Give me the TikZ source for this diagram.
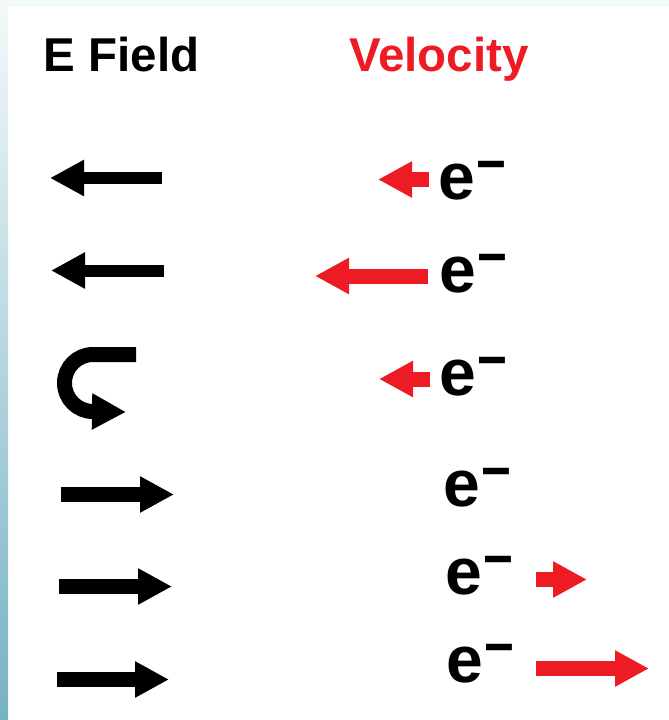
\documentclass[tikz,border=0pt]{standalone}
\usepackage{fontspec}
\setmainfont{Liberation Sans}
\usepackage{graphicx}
\usetikzlibrary{arrows.meta}
\definecolor{vred}{HTML}{ED1C24}
\definecolor{edgetop}{HTML}{F4F9FA}
\definecolor{edgemid}{HTML}{DDEDF2}
\definecolor{edgebot}{HTML}{76B2C4}
\newcommand{\elec}{e\raisebox{20.5pt}{\scalebox{1.7}[0.9]{\fontsize{60}{60}\selectfont\bfseries -}}}

\begin{document}
\begin{tikzpicture}[x=1pt,y=-1pt]
  \useasboundingbox (0,0) rectangle (669,720);
  \fill[edgetop] (0,0) rectangle (669,7);
  \shade[top color=edgetop,middle color=edgemid,bottom color=edgebot] (0,0) rectangle (8,720);
  \tikzset{
    fieldarrow/.style={line width=#1,-{Triangle[length=34pt,width=34pt]}},
    velarrow/.style={vred,line width=15pt,-{Triangle[length=34pt,width=34pt]}},
    heading/.style={anchor=base west,inner sep=0pt,font=\fontsize{47.5}{50}\selectfont\bfseries},
    electron/.style={anchor=base west,inner sep=0pt,font=\fontsize{66}{70}\selectfont\bfseries}
  }
  \node[heading] (efield) at (43.5,71) {E Field};
  \node[heading,text=vred] (velocity) at (349,71) {Velocity};
  % field column
  \draw[fieldarrow=12pt] (162,178) -- (50,178);
  \draw[fieldarrow=12pt] (164,270.5) -- (51,270.5);
  \draw[fieldarrow=15pt] (136,354.5) -- (93,354.5) arc[start angle=270,end angle=90,radius=28.5] -- (126,412);
  \draw[fieldarrow=15pt] (61,494.5) -- (174,494.5);
  \draw[fieldarrow=15pt] (59,586.5) -- (172,586.5);
  \draw[fieldarrow=15pt] (57,679.5) -- (169,679.5);
  % electrons
  \node[electron] (e1) at (438,199) {\elec};
  \node[electron] (e2) at (439,292) {\elec};
  \node[electron] (e3) at (439,395) {\elec};
  \node[electron] (e4) at (443,506) {\elec};
  \node[electron] (e5) at (445,594) {\elec};
  \node[electron] (e6) at (446,682) {\elec};
  % velocity column
  \draw[velarrow] (429,179.5) -- (378,179.5);
  \draw[velarrow] (428,276) -- (315,276);
  \draw[velarrow] (430,379) -- (379,379);
  \draw[velarrow] (536,579.5) -- (587,579.5);
  \draw[velarrow] (536,668.5) -- (649,668.5);
\end{tikzpicture}
\end{document}
